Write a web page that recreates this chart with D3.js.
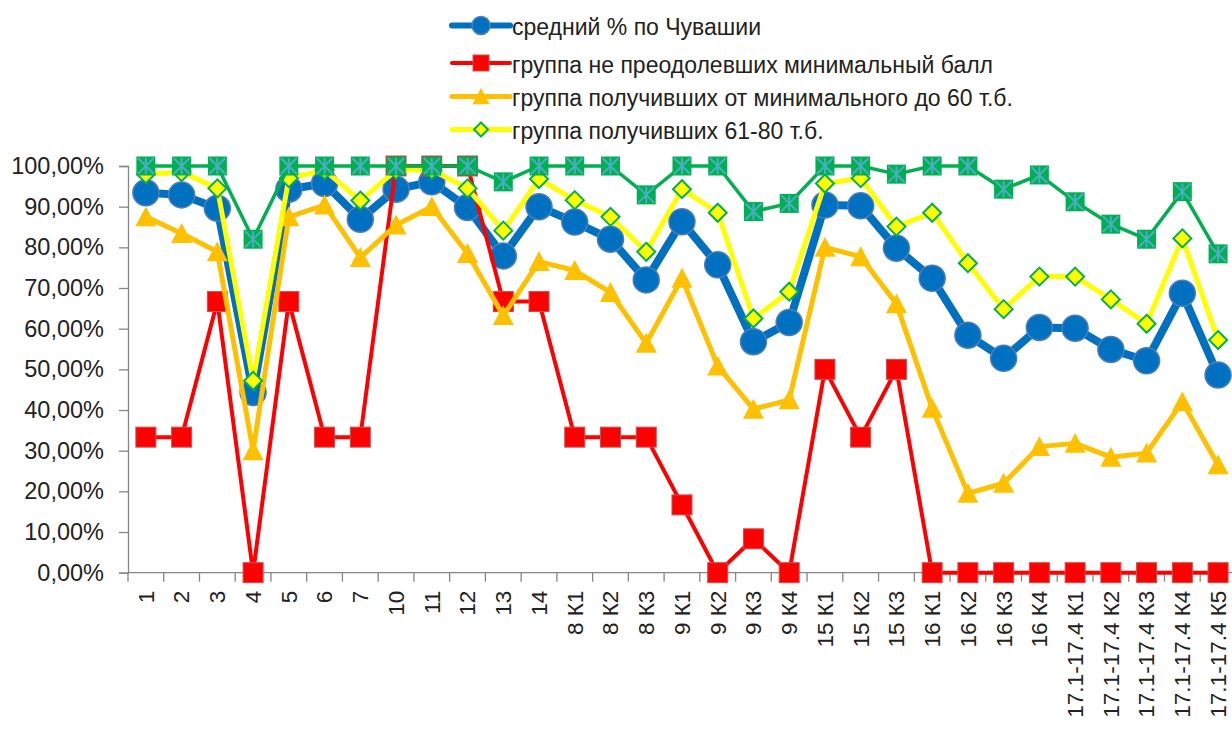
<!DOCTYPE html>
<html>
<head>
<meta charset="utf-8">
<script src="https://cdn.jsdelivr.net/npm/d3@7"></script>
<style>
  html, body { margin: 0; padding: 0; background: #fff; overflow: hidden; }
  svg { display: block; }
  text { font-family: "Liberation Sans", Arial, sans-serif; fill: #222; }
</style>
</head>
<body>
<svg id="chart" width="1232" height="731"></svg>
<script>
// Categories (task numbers / criteria)
const categories = ["1","2","3","4","5","6","7","10","11","12","13","14",
  "8 К1","8 К2","8 К3","9 К1","9 К2","9 К3","9 К4",
  "15 К1","15 К2","15 К3","16 К1","16 К2","16 К3","16 К4",
  "17.1-17.4 К1","17.1-17.4 К2","17.1-17.4 К3","17.1-17.4 К4","17.1-17.4 К5"];

// Share of completion, %
const avgChuvashia = [93.4, 92.9, 89.6, 44.3, 94.3, 95.7, 86.9, 94.3, 96.1, 89.8, 77.9, 90.0,
  86.2, 82.0, 72.0, 86.3, 75.7, 56.8, 61.5, 90.4, 90.2, 79.8, 72.4, 58.4, 52.7, 60.3,
  60.1, 54.9, 52.1, 68.7, 48.6];
const belowMinimum = [33.33, 33.33, 66.67, 0, 66.67, 33.33, 33.33, 100, 100, 100, 66.67, 66.67,
  33.33, 33.33, 33.33, 16.67, 0, 8.33, 0, 50, 33.33, 50, 0, 0, 0, 0,
  0, 0, 0, 0, 0];
const minTo60 = [87.5, 83.4, 78.9, 30.0, 87.5, 90.4, 77.5, 85.5, 90.0, 78.5, 63.2, 76.5,
  74.3, 68.9, 56.4, 72.4, 50.8, 40.2, 42.5, 80.0, 77.7, 66.1, 40.4, 19.5, 22.0, 31.0,
  31.8, 28.4, 29.4, 42.0, 26.5];
const from61to80 = [98.0, 98.5, 94.5, 47.2, 97.0, 99.0, 91.5, 99.0, 99.0, 94.5, 84.1, 96.8,
  91.6, 87.5, 78.9, 94.3, 88.5, 62.5, 69.1, 95.7, 97.0, 85.1, 88.5, 76.1, 64.8, 72.8,
  72.8, 67.2, 61.2, 82.2, 57.2];
const from81to100 = [100, 100, 100, 82.0, 100, 100, 100, 100, 100, 100, 96.1, 100,
  100, 100, 92.9, 100, 100, 88.8, 90.8, 100, 100, 98.0, 100, 100, 94.3, 97.8,
  91.2, 85.7, 82.0, 93.7, 78.4];

const yTicks = [0, 10, 20, 30, 40, 50, 60, 70, 80, 90, 100];

const legendLabels = [
  "средний % по Чувашии",
  "группа не преодолевших минимальный балл",
  "группа получивших от минимального до 60 т.б.",
  "группа получивших 61-80 т.б."
];

const svg = d3.select("#chart");

const plot = { left: 128, top: 166, bottom: 572.7, right: 128 + 31 * 35.74 };

const x = d3.scaleBand().domain(categories).range([plot.left, plot.right]).padding(0);
const y = d3.scaleLinear().domain([0, 100]).range([plot.bottom, plot.top]);

const fmt = v => d3.format(".2f")(v).replace(".", ",") + "%";

// Y axis
const yAxis = svg.append("g")
  .attr("transform", `translate(${plot.left},0)`)
  .call(d3.axisLeft(y).tickValues(yTicks).tickSize(9).tickPadding(15).tickFormat(fmt));
yAxis.select(".domain").attr("stroke", "#868686").attr("stroke-width", 1.3);
yAxis.selectAll(".tick line").attr("stroke", "#868686").attr("stroke-width", 1.3);
yAxis.selectAll(".tick text").style("font-size", "23.5px").attr("fill", "#222");

// X axis: ticks on category boundaries, labels rotated
const xAxisG = svg.append("g").attr("transform", `translate(0,${plot.bottom})`);
xAxisG.append("line")
  .attr("x1", plot.left).attr("x2", plot.right)
  .attr("stroke", "#868686").attr("stroke-width", 1.3);
xAxisG.selectAll("line.tk")
  .data(categories.concat(["__end"]))
  .join("line").attr("class", "tk")
  .attr("x1", (d, i) => plot.left + i * x.bandwidth())
  .attr("x2", (d, i) => plot.left + i * x.bandwidth())
  .attr("y1", 0).attr("y2", 9)
  .attr("stroke", "#868686").attr("stroke-width", 1.3);
xAxisG.selectAll("text.lbl")
  .data(categories)
  .join("text").attr("class", "lbl")
  .attr("transform", d => `translate(${x(d) + x.bandwidth() / 2},18) rotate(-90)`)
  .attr("text-anchor", "end")
  .attr("dy", "0.35em")
  .style("font-size", "22.5px")
  .text(d => d);

const cx = (d, i) => x(categories[i]) + x.bandwidth() / 2;
const line = d3.line().x(cx).y(d => y(d));

// Marker shapes
function circleMarker(g, r) {
  g.append("circle").attr("r", r).attr("fill", "#0070C0").attr("stroke", "#4a7ebb").attr("stroke-width", 1.5);
}
function squareMarker(g, s) {
  g.append("rect").attr("x", -s / 2).attr("y", -s / 2).attr("width", s).attr("height", s)
    .attr("fill", "#FF0000").attr("stroke", "#c9504d").attr("stroke-width", 1);
}
function triangleMarker(g, w) {
  const h = w * 0.9;
  g.append("path").attr("d", `M0,${-h / 2 - 1}L${w / 2},${h / 2}L${-w / 2},${h / 2}Z`)
    .attr("fill", "#FFC000");
}
function diamondMarker(g, r) {
  g.append("path").attr("d", `M0,${-r}L${r},0L0,${r}L${-r},0Z`)
    .attr("fill", "#FFFF00").attr("stroke", "#00B050").attr("stroke-width", 2);
}
function starSquareMarker(g, s) {
  g.append("rect").attr("x", -s / 2).attr("y", -s / 2).attr("width", s).attr("height", s)
    .attr("fill", "#00B050");
  const h = s / 2 - 1.5;
  g.append("path").attr("d", `M${-h},${-h}L${h},${h}M${h},${-h}L${-h},${h}M0,${-h}L0,${h}`)
    .attr("stroke", "#4BACC6").attr("stroke-width", 2).attr("fill", "none");
}

const series = [
  { data: avgChuvashia, color: "#0070C0", width: 8, marker: g => circleMarker(g, 13) },
  { data: belowMinimum, color: "#FF0000", width: 4, marker: g => squareMarker(g, 20) },
  { data: minTo60, color: "#FFC000", width: 5, marker: g => triangleMarker(g, 21) },
  { data: from61to80, color: "#FFFF00", width: 5, marker: g => diamondMarker(g, 9) },
  { data: from81to100, color: "#00B050", width: 3.5, marker: g => starSquareMarker(g, 19) }
];

series.forEach(s => {
  const g = svg.append("g");
  g.append("path").datum(s.data)
    .attr("d", line).attr("fill", "none")
    .attr("stroke", s.color).attr("stroke-width", s.width)
    .attr("stroke-linejoin", "round");
  g.selectAll("g.m").data(s.data).join("g").attr("class", "m")
    .attr("transform", (d, i) => `translate(${cx(d, i)},${y(d)})`)
    .each(function () { s.marker(d3.select(this)); });
});

// Legend
const legend = svg.append("g");
const legendRows = [25.5, 63, 96.5, 129.5];
const legendMarkers = [
  { color: "#0070C0", width: 6, marker: g => circleMarker(g, 9) },
  { color: "#FF0000", width: 4, marker: g => squareMarker(g, 16) },
  { color: "#FFC000", width: 5, marker: g => triangleMarker(g, 17) },
  { color: "#FFFF00", width: 5, marker: g => diamondMarker(g, 7) }
];
legendLabels.forEach((label, i) => {
  const row = legend.append("g").attr("transform", `translate(0,${legendRows[i]})`);
  row.append("line").attr("x1", 452).attr("x2", 510)
    .attr("stroke", legendMarkers[i].color).attr("stroke-width", legendMarkers[i].width)
    .attr("stroke-linecap", "round");
  const m = row.append("g").attr("transform", "translate(481,0)");
  legendMarkers[i].marker(m);
  row.append("text").attr("x", 512).attr("dy", "0.42em")
    .style("font-size", "23px").attr("fill", "#262626").text(label);
});
</script>
</body>
</html>
